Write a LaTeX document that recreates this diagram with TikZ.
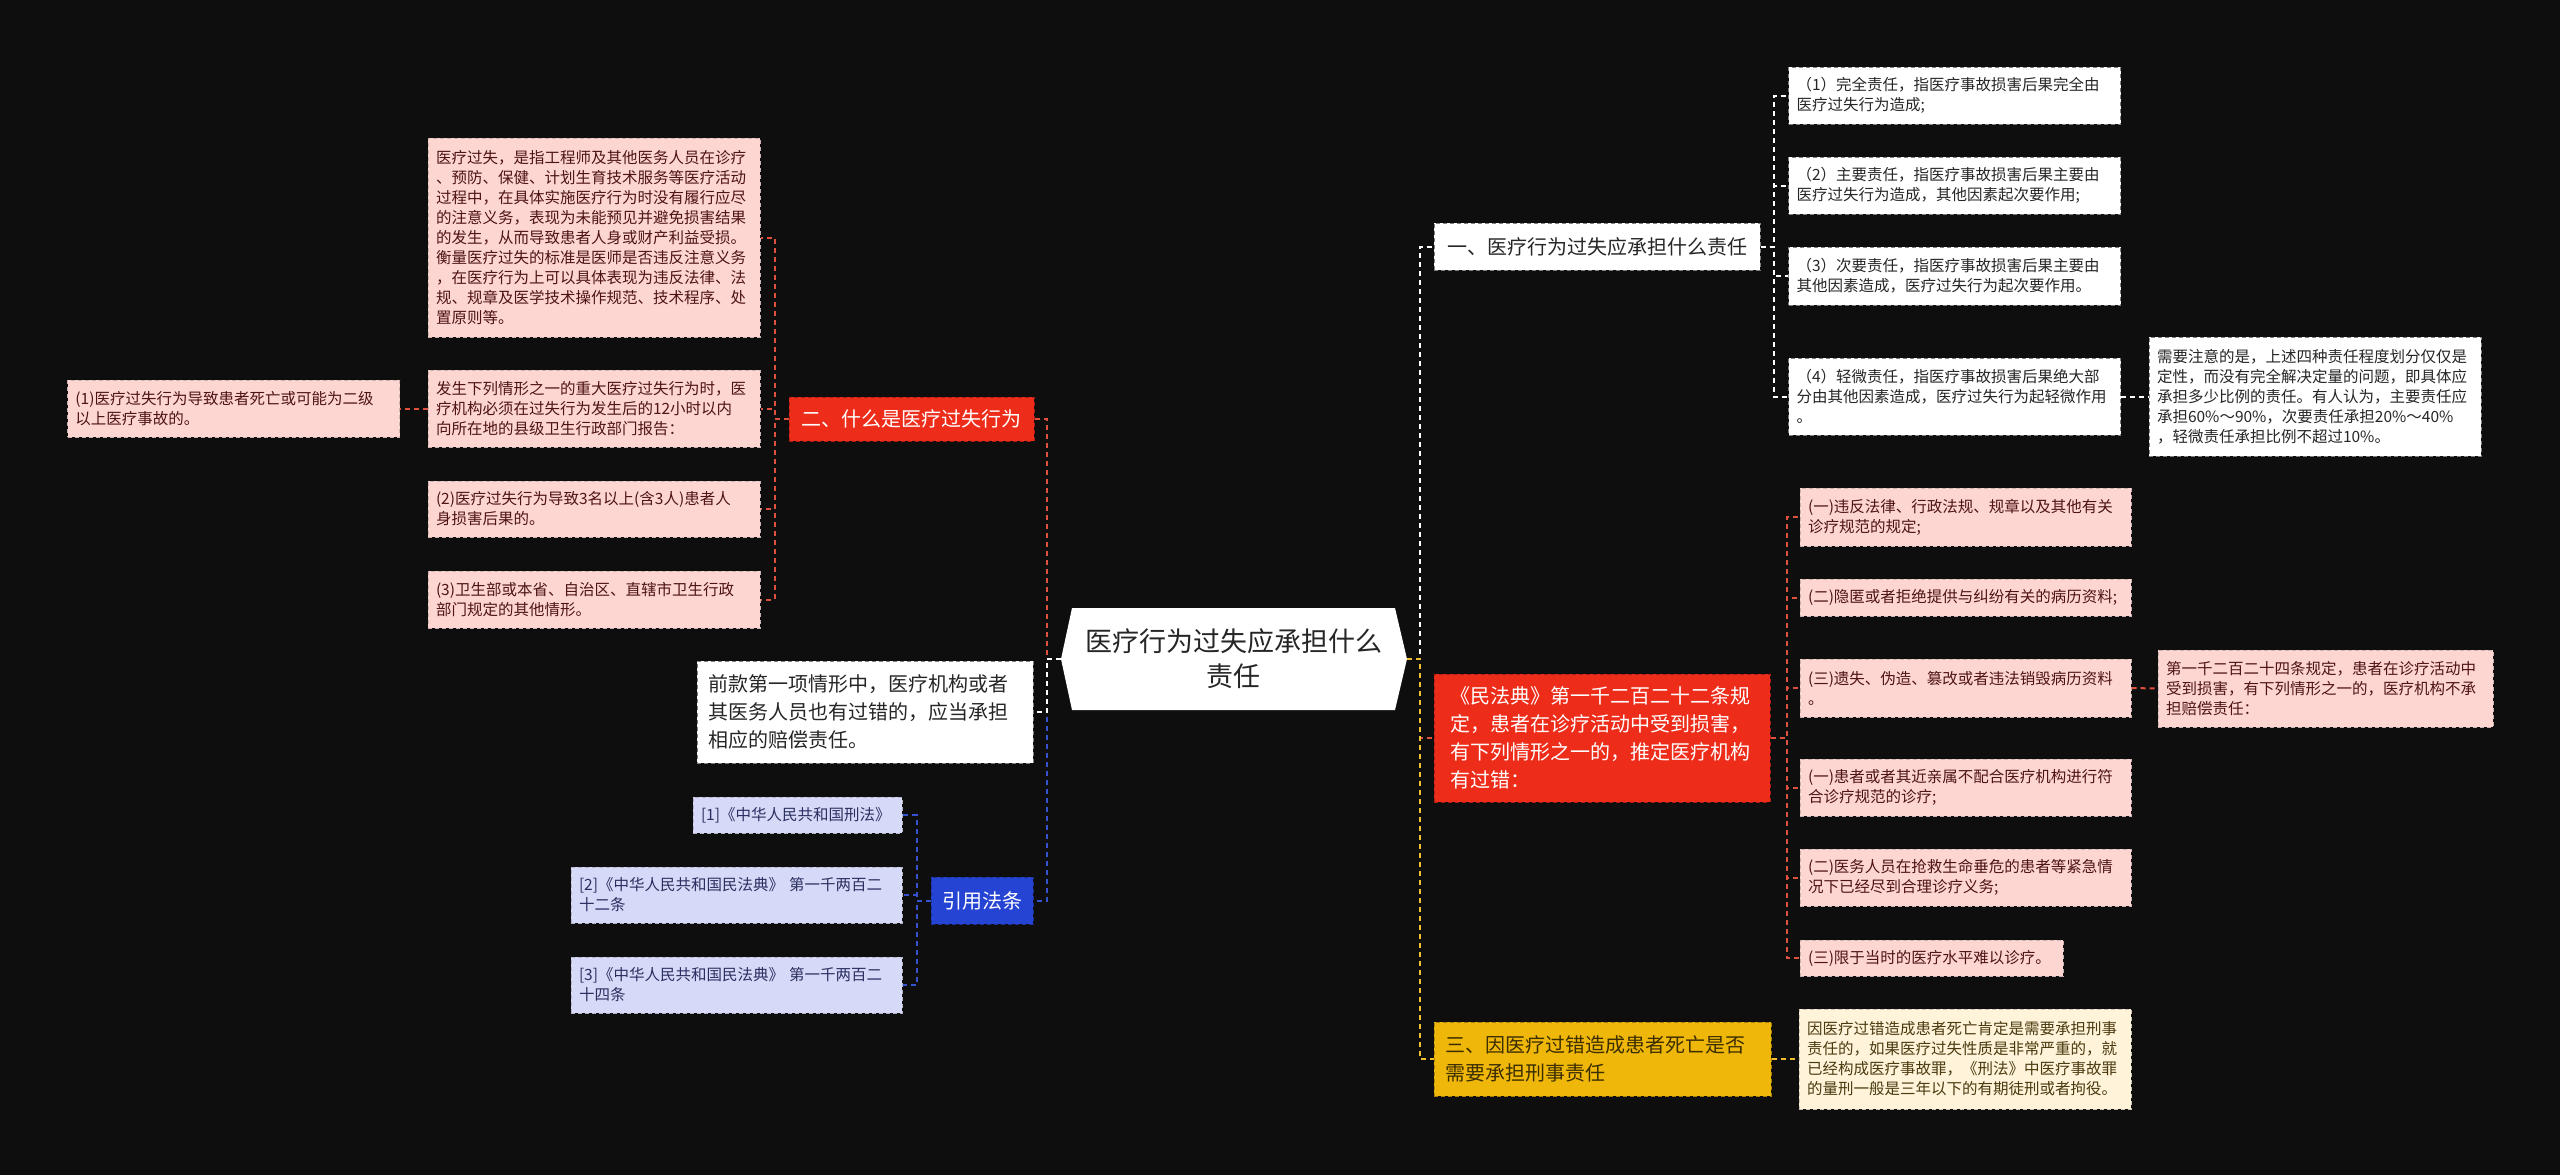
\documentclass[tikz,border=0pt]{standalone}
\usepackage{fontspec}
\setmainfont{Noto Sans CJK SC}

\definecolor{bgc}{HTML}{0E0E0E}
\definecolor{redfill}{HTML}{EE2C1A}
\definecolor{redline}{HTML}{E0503F}
\definecolor{pinkfill}{HTML}{FDD6D2}
\definecolor{pinktext}{HTML}{4E1414}
\definecolor{bluefill}{HTML}{2644D4}
\definecolor{blueline}{HTML}{3553D0}
\definecolor{lavfill}{HTML}{D6D9F7}
\definecolor{lavtext}{HTML}{2B2F60}
\definecolor{yelfill}{HTML}{F0B70B}
\definecolor{yelline}{HTML}{F0C030}
\definecolor{yeltext}{HTML}{3B2E00}
\definecolor{creamfill}{HTML}{FFF4D9}
\definecolor{creamtext}{HTML}{4A3A10}
\definecolor{darktext}{HTML}{262626}

\begin{document}
\begin{tikzpicture}[x=0.5pt,y=-0.5pt,
  leaf/.style={draw, line width=0.5pt, dash pattern=on 2pt off 1.5pt,
    font=\fontsize{7.75}{10}\selectfont, align=left,
    inner xsep=4pt, inner ysep=0pt, text width=158pt},
  pinkbox/.style={leaf, fill=pinkfill, draw=pinkfill!60!gray, text=pinktext},
  whitebox/.style={leaf, fill=white, draw=gray, text=darktext},
  lavbox/.style={leaf, fill=lavfill, draw=lavfill!60!gray, text=lavtext},
  creambox/.style={leaf, fill=creamfill, draw=creamfill!60!gray, text=creamtext},
  branch/.style={draw, line width=0.5pt, dash pattern=on 2pt off 1.5pt,
    font=\fontsize{10}{14}\selectfont, inner sep=0pt},
  link/.style={line width=1pt, dash pattern=on 2.5pt off 2pt},
]
\useasboundingbox (0,0) rectangle (2560,1175);
\fill[bgc] (0,0) rectangle (2560,1175);

% centre
\fill[white] (1072,608) -- (1395,608) -- (1407,659) -- (1395,710)
  -- (1072,710) -- (1061,659) -- cycle;
\node[font=\fontsize{13.5}{17.5}\selectfont, align=center, text=darktext]
  (root) at (1233.5,659) {医疗行为过失应承担什么\\责任};
\coordinate (rootL) at (1061,659);
\coordinate (rootR) at (1407,659);

% left: 二
\node[branch, fill=redfill, draw=redfill!70!black, text=white,
  minimum width=122.5pt, minimum height=22pt] (n2) at (911.5,419) {二、什么是医疗过失行为};
\node[pinkbox, minimum height=99.5pt] (d1) at (594,237.5) {医疗过失，是指工程师及其他医务人员在诊疗\\
、预防、保健、计划生育技术服务等医疗活动\\
过程中，在具体实施医疗行为时没有履行应尽\\
的注意义务，表现为未能预见并避免损害结果\\
的发生，从而导致患者人身或财产利益受损。\\
衡量医疗过失的标准是医师是否违反注意义务\\
，在医疗行为上可以具体表现为违反法律、法\\
规、规章及医学技术操作规范、技术程序、处\\
置原则等。};
\node[pinkbox, minimum height=38.5pt] (d2) at (594,408.5) {发生下列情形之一的重大医疗过失行为时，医\\
疗机构必须在过失行为发生后的12小时以内\\
向所在地的县级卫生行政部门报告：};
\node[pinkbox, minimum height=28.5pt] (d2a) at (233.5,408.5) {(1)医疗过失行为导致患者死亡或可能为二级\\以上医疗事故的。};
\node[pinkbox, minimum height=28pt] (d3) at (594,509) {(2)医疗过失行为导致3名以上(含3人)患者人\\身损害后果的。};
\node[pinkbox, minimum height=28.5pt] (d4) at (594,599.5) {(3)卫生部或本省、自治区、直辖市卫生行政\\部门规定的其他情形。};

% left: note
\node[branch, fill=white, draw=gray, text=darktext, align=left,
  text width=157pt, inner xsep=5.5pt, minimum height=51pt] (note) at (865,712)
  {前款第一项情形中，医疗机构或者\\其医务人员也有过错的，应当承担\\相应的赔偿责任。};

% left: 引用法条
\node[branch, fill=bluefill, draw=bluefill!70!black, text=white,
  minimum width=51pt, minimum height=23.5pt] (cite) at (982,900.5) {引用法条};
\node[lavbox, text width=96.5pt, minimum height=18pt] (c1) at (797.5,815) {[1]《中华人民共和国刑法》};
\node[lavbox, text width=157.5pt, minimum height=28pt] (c2) at (736.5,895) {[2]《中华人民共和国民法典》 第一千两百二\\十二条};
\node[lavbox, text width=157.5pt, minimum height=28pt] (c3) at (736.5,985) {[3]《中华人民共和国民法典》 第一千两百二\\十四条};

% right: 一
\node[branch, fill=white, draw=gray, text=darktext,
  minimum width=163pt, minimum height=23.5pt] (r1) at (1597,246.5) {一、医疗行为过失应承担什么责任};
\node[whitebox, minimum height=28.5pt] (a1) at (1954.5,95.5) {（1）完全责任，指医疗事故损害后果完全由\\医疗过失行为造成;};
\node[whitebox, minimum height=28.5pt] (a2) at (1954.5,185.5) {（2）主要责任，指医疗事故损害后果主要由\\医疗过失行为造成，其他因素起次要作用;};
\node[whitebox, minimum height=29pt] (a3) at (1954.5,276) {（3）次要责任，指医疗事故损害后果主要由\\其他因素造成，医疗过失行为起次要作用。};
\node[whitebox, minimum height=38.5pt] (a4) at (1954.5,396.5) {（4）轻微责任，指医疗事故损害后果绝大部\\分由其他因素造成，医疗过失行为起轻微作用\\。};
\node[whitebox, minimum height=59.5pt] (a4n) at (2315,396.5) {需要注意的是，上述四种责任程度划分仅仅是\\
定性，而没有完全解决定量的问题，即具体应\\
承担多少比例的责任。有人认为，主要责任应\\
承担60\%～90\%，次要责任承担20\%～40\%\\
，轻微责任承担比例不超过10\%。};

% right: 民法典
\node[branch, fill=redfill, draw=redfill!70!black, text=white, align=left,
  text width=152pt, inner xsep=8pt, minimum height=64pt] (r2) at (1602,738)
  {《民法典》第一千二百二十二条规\\定，患者在诊疗活动中受到损害，\\有下列情形之一的，推定医疗机构\\有过错：};
\node[pinkbox, text width=157.5pt, minimum height=29pt] (b1) at (1965.5,517) {(一)违反法律、行政法规、规章以及其他有关\\诊疗规范的规定;};
\node[pinkbox, text width=157.5pt, minimum height=18.5pt] (b2) at (1965.5,597.5) {(二)隐匿或者拒绝提供与纠纷有关的病历资料;};
\node[pinkbox, text width=157.5pt, minimum height=29pt] (b3) at (1965.5,688) {(三)遗失、伪造、篡改或者违法销毁病历资料\\。};
\node[pinkbox, text width=159.5pt, minimum height=38.5pt] (b3n) at (2325.5,688.5) {第一千二百二十四条规定，患者在诊疗活动中\\受到损害，有下列情形之一的，医疗机构不承\\担赔偿责任：};
\node[pinkbox, text width=157.5pt, minimum height=28.5pt] (b4) at (1965.5,787.5) {(一)患者或者其近亲属不配合医疗机构进行符\\合诊疗规范的诊疗;};
\node[pinkbox, text width=157.5pt, minimum height=28.5pt] (b5) at (1965.5,877.5) {(二)医务人员在抢救生命垂危的患者等紧急情\\况下已经尽到合理诊疗义务;};
\node[pinkbox, text width=123.5pt, minimum height=18pt] (b6) at (1931.5,958) {(三)限于当时的医疗水平难以诊疗。};

% right: 三
\node[branch, fill=yelfill, draw=yelfill!70!black, text=yeltext, align=left,
  text width=157pt, inner xsep=5.75pt, minimum height=37pt] (r3) at (1602.5,1059)
  {三、因医疗过错造成患者死亡是否\\需要承担刑事责任};
\node[creambox, minimum height=50pt] (r3n) at (1965,1059) {因医疗过错造成患者死亡肯定是需要承担刑事\\
责任的，如果医疗过失性质是非常严重的，就\\
已经构成医疗事故罪，《刑法》中医疗事故罪\\
的量刑一般是三年以下的有期徒刑或者拘役。};

% links, left
\draw[link, redline] (rootL) -- ++(-14,0) |- (n2.east);
\draw[link, blueline] (rootL) -- ++(-14,0) |- (cite.east);
\draw[link, white] (rootL) -- ++(-14,0) |- (note.east);
\foreach \k in {d1,d2,d3,d4}
  \draw[link, redline] (n2.west) -- ++(-14,0) |- (\k.east);
\draw[link, redline] (d2.west) -- (d2a.east);
\foreach \k in {c1,c2,c3}
  \draw[link, blueline] (cite.west) -- ++(-14,0) |- (\k.east);

% links, right
\draw[link, white] (rootR) -- ++(13,0) |- (r1.west);
\draw[link, redline] (rootR) -- ++(13,0) |- (r2.west);
\draw[link, yelline] (rootR) -- ++(13,0) |- (r3.west);
\foreach \k in {a1,a2,a3,a4}
  \draw[link, white] (r1.east) -- ++(13,0) |- (\k.west);
\draw[link, white] (a4.east) -- (a4n.west);
\foreach \k in {b1,b2,b3,b4,b5,b6}
  \draw[link, redline] (r2.east) -- ++(16,0) |- (\k.west);
\draw[link, redline] (b3.east) -- (b3n.west);
\draw[link, yelline] (r3.east) -- (r3n.west);
\end{tikzpicture}
\end{document}
